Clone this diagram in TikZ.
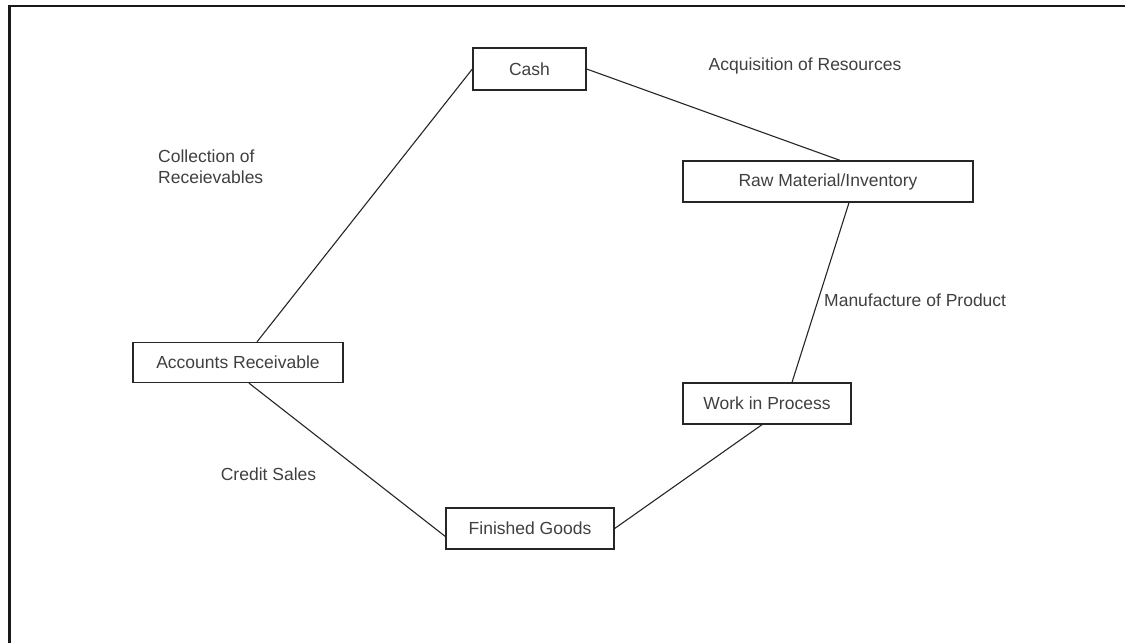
\documentclass[tikz,border=0pt]{standalone}
\usepackage{fontspec}
\setmainfont{Liberation Sans}
\begin{document}
\begin{tikzpicture}[x=1pt,y=-1pt,
  box/.style={draw=black!85,line width=1.3pt,inner sep=0pt,text=black!75,font=\fontsize{17.5}{20}\selectfont},
  lbl/.style={inner sep=0pt,text=black!75,font=\fontsize{17.5}{21}\selectfont},
  conn/.style={draw=black!85,line width=1.1pt}]
\useasboundingbox (0,0) rectangle (1125,643);
\fill[white] (0,0) rectangle (1125,643);
\draw[line width=2.2pt,black!90] (9.5,643) -- (9.5,6) -- (1125,6);
% boxes
\node[box,minimum width=113pt,minimum height=42pt] (cash) at (529.5,69) {Cash};
\node[box,minimum width=290pt,minimum height=41pt] (raw) at (828,181.5) {Raw Material/Inventory};
\node[box,minimum width=168pt,minimum height=41pt] (wip) at (767,403.5) {Work in Process};
\node[box,minimum width=168pt,minimum height=41pt] (fg) at (530,528.5) {Finished Goods};
\node[box,minimum width=210pt,minimum height=40pt] (ar) at (238,362.5) {Accounts Receivable};
% labels
\node[lbl] (acq) at (805,66) {Acquisition of Resources};
\node[lbl,anchor=west] (man) at (824,300) {Manufacture of Product};
\node[lbl] (cred) at (268.5,474) {Credit Sales};
\node[lbl,anchor=north west,align=left] (coll) at (158,150) {Collection of\\Receievables};
% connectors
\draw[conn] (cash.east) -- ([xshift=12pt]raw.north);
\draw[conn] ([xshift=21pt]raw.south) -- ([xshift=25pt]wip.north);
\draw[conn] ([xshift=-5pt]wip.south) -- (fg.east);
\draw[conn] ([yshift=-8pt]fg.west) -- ([xshift=11pt]ar.south);
\draw[conn] ([xshift=19pt]ar.north) -- (cash.west);
\end{tikzpicture}
\end{document}
